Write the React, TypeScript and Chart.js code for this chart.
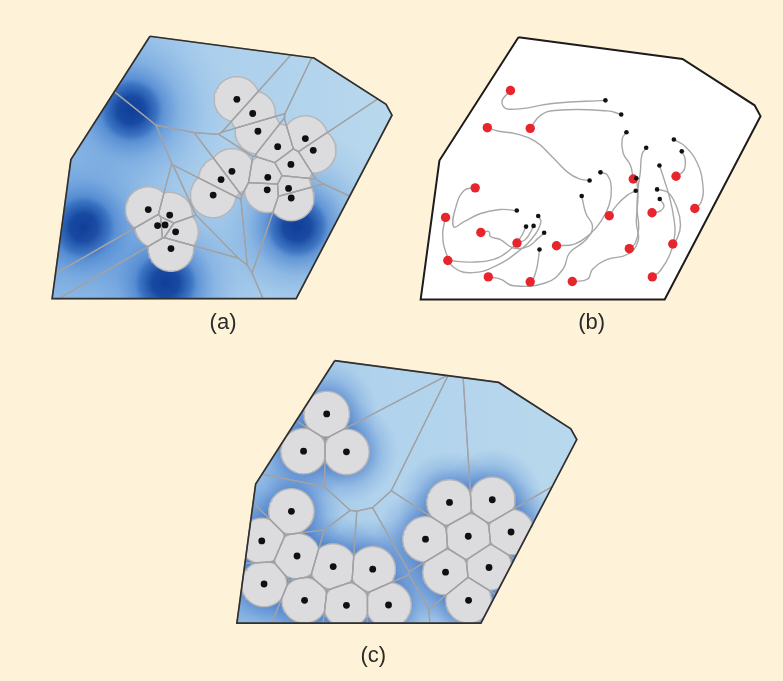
import React, { useEffect, useRef } from 'react';
import { Chart, registerables } from 'chart.js';

Chart.register(...registerables);

const CANVAS_W = 783;
const CANVAS_H = 681;

// Shared workspace polygon (frame of panel a)
const domainX = [147, 313, 386, 392, 295, 48, 67];
const domainY = [32, 54, 101, 112, 298, 298, 157];

const panelLabels = ['(a)', '(b)', '(c)'];
const panelOffsetX = [0, 373, 187];
const panelOffsetY = [0, 1, 329];
const labelX = [221, 594, 373];
const labelY = [323, 323, 660];

// Initial robot positions (panel a, black dots of panel b)
const initialX = [235, 251, 256.3, 276.3, 304.3, 312.3, 289.7, 266.3, 265.7, 287.3, 290, 230, 219, 211, 145.3, 167, 154.7, 162.3, 173, 168.3];
const initialY = [96, 110.3, 128.3, 144, 135.7, 147.7, 162, 175, 187.7, 186.3, 196, 169, 177.3, 193, 207.7, 213.3, 224, 223.3, 230.3, 247.3];

// Final robot positions (panel c, red dots of panel b)
const finalX = [138.9, 115.5, 158.9, 103.2, 73.2, 108.9, 75.5, 145.5, 185.5, 116.5, 158.9, 201.5, 263.2, 306.5, 238.9, 282.2, 325.5, 259.2, 303.2, 282.5];
const finalY = [86, 123.7, 124.4, 184.7, 214.7, 230, 258.4, 240.7, 243.4, 275, 280, 279.7, 175.7, 173, 213, 210, 205.7, 246.4, 241.7, 275];

// Density peaks (panel a)
const densityX = [128, 80, 163, 296];
const densityY = [107, 226, 282, 225];

const sensingRadius = 23;

// Trajectories (panel b): start index, end index, waypoints
const trajStart = [0, 1, 2, 4, 5, 3, 6, 9, 10, 8, 11, 12, 7, 13, 14, 16, 17, 19, 18, 15];
const trajEnd = [0, 2, 12, 16, 13, 17, 19, 18, 15, 14, 8, 1, 11, 9, 3, 6, 7, 10, 5, 4];
const trajWaypoints: number[][][] = [
  [[183.7, 99], [137, 105], [130.3, 97.3]],
  [[237, 106.7], [183.7, 106.3], [168.7, 111.7]],
  [[252, 135], [253, 149.7], [260.3, 161.7]],
  [[315.3, 142.3], [327.7, 159], [333.7, 182.3], [332, 199]],
  [[315.7, 155.7], [314.3, 167.3]],
  [[272, 150.7], [270.3, 169], [268, 185.7], [267, 205.7], [268.7, 225.7], [265.3, 240.7]],
  [[294.3, 175.7], [300.3, 195.7], [304.3, 215.7], [305.3, 232.3], [300.3, 252.3], [290.3, 269]],
  [[298.7, 189.7], [307.7, 205.7], [311, 222.3], [307.7, 235.7]],
  [[294.3, 203], [290.3, 208.3]],
  [[257, 192.3], [247, 201.7]],
  [[237, 171.7], [241, 185.7], [238.7, 202.3], [230.3, 219], [218.7, 232.3], [203.7, 241.7]],
  [[208.7, 175.7], [197, 169], [180.3, 152.3], [163.7, 137.3], [143.7, 129.7], [127, 127.3]],
  [[268, 192.3], [266.3, 219], [268, 239], [257, 252.3], [237, 257.3], [222, 267.3], [217, 277.3]],
  [[215.3, 210.7], [222, 224], [215.3, 237.3], [198.7, 250.7], [192, 267.3], [175.3, 280.7], [142, 284], [128.7, 277.3]],
  [[128.7, 206.7], [108.7, 210.7], [92, 219], [81.3, 224], [83.7, 204], [92, 187.3]],
  [[148.7, 235.7], [138.7, 247.3], [122, 257.3], [98.7, 260]],
  [[158.7, 230.7], [153.7, 237.3]],
  [[166, 264], [162, 277.3]],
  [[167, 235.7], [157, 244], [142, 245.7], [128.7, 237.3], [118.7, 234], [117, 229]],
  [[169.7, 219], [163.7, 232.3], [147, 249], [123.7, 264], [100.3, 270.7], [82, 265.7], [74.3, 252.3], [70.3, 232.3]],
];

type Pt = { x: number; y: number };

const clipBy = (poly: Pt[], f: (p: Pt) => number): Pt[] => {
  const out: Pt[] = [];
  for (let i = 0; i < poly.length; i++) {
    const p = poly[i];
    const q = poly[(i + 1) % poly.length];
    const fp = f(p);
    const fq = f(q);
    if (fp <= 0) out.push(p);
    if ((fp < 0 && fq > 0) || (fp > 0 && fq < 0)) {
      const t = fp / (fp - fq);
      out.push({ x: p.x + t * (q.x - p.x), y: p.y + t * (q.y - p.y) });
    }
  }
  return out;
};

const domainPoly = (): Pt[] => domainX.map((x, i) => ({ x, y: domainY[i] }));

const clipToDomain = (poly: Pt[]): Pt[] => {
  const d = domainPoly();
  let r = poly;
  for (let i = 0; i < d.length; i++) {
    const p = d[i];
    const q = d[(i + 1) % d.length];
    r = clipBy(r, (s) => -((q.x - p.x) * (s.y - p.y) - (q.y - p.y) * (s.x - p.x)));
  }
  return r;
};

const clipToCell = (poly: Pt[], xs: number[], ys: number[], i: number): Pt[] => {
  let r = poly;
  for (let j = 0; j < xs.length; j++) {
    if (j === i) continue;
    const mx = (xs[i] + xs[j]) / 2;
    const my = (ys[i] + ys[j]) / 2;
    const dx = xs[j] - xs[i];
    const dy = ys[j] - ys[i];
    r = clipBy(r, (s) => (s.x - mx) * dx + (s.y - my) * dy);
  }
  return r;
};

const circlePoly = (cx: number, cy: number, r: number): Pt[] => {
  const pts: Pt[] = [];
  const n = 96;
  for (let k = 0; k < n; k++) {
    const a = (k / n) * Math.PI * 2;
    pts.push({ x: cx + r * Math.cos(a), y: cy + r * Math.sin(a) });
  }
  return pts;
};

const shift = (poly: Pt[], k: number): Pt[] =>
  poly.map((p) => ({ x: p.x + panelOffsetX[k], y: p.y + panelOffsetY[k] }));

const ok = (...v: number[]) => v.every((n) => Number.isFinite(n));

const radialFill = (cx: number, cy: number, r: number, stops: [number, string][]) => (c: any) => {
  const chart = c.chart;
  const xs = chart.scales?.x;
  const ys = chart.scales?.y;
  if (!xs || !ys) return 'rgba(0,0,0,0)';
  const px = xs.getPixelForValue(cx);
  const py = ys.getPixelForValue(cy);
  const pr = Math.abs(xs.getPixelForValue(cx + r) - px);
  if (!ok(px, py, pr) || pr <= 0) return 'rgba(0,0,0,0)';
  const g = chart.ctx.createRadialGradient(px, py, 0, px, py, pr);
  stops.forEach(([o, col]) => g.addColorStop(o, col));
  return g;
};

const linearFill = (x0: number, x1: number, stops: [number, string][]) => (c: any) => {
  const chart = c.chart;
  const xs = chart.scales?.x;
  if (!xs) return '#b8d8ec';
  const p0 = xs.getPixelForValue(x0);
  const p1 = xs.getPixelForValue(x1);
  if (!ok(p0, p1)) return '#b8d8ec';
  const g = chart.ctx.createLinearGradient(p0, 0, p1, 0);
  stops.forEach(([o, col]) => g.addColorStop(o, col));
  return g;
};

const spotStops: [number, string][] = [
  [0, 'rgba(16,62,152,1)'],
  [0.14, 'rgba(20,70,160,0.97)'],
  [0.26, 'rgba(35,95,185,0.8)'],
  [0.32, 'rgba(50,112,198,0.62)'],
  [0.5, 'rgba(70,130,210,0.33)'],
  [0.75, 'rgba(95,150,218,0.12)'],
  [1, 'rgba(110,160,222,0)'],
];

const haloStops: [number, string][] = [
  [0, 'rgba(45,100,190,0.5)'],
  [0.45, 'rgba(45,100,190,0.46)'],
  [0.7, 'rgba(60,115,200,0.2)'],
  [1, 'rgba(80,130,205,0)'],
];

const labelPlugin = {
  id: 'panelLabels',
  afterDatasetsDraw(chart: any) {
    const { ctx } = chart;
    const xs = chart.scales.x;
    const ys = chart.scales.y;
    ctx.save();
    ctx.font = '22px "Liberation Sans", Arial, Helvetica, sans-serif';
    ctx.fillStyle = '#2a2a2a';
    ctx.textAlign = 'center';
    ctx.textBaseline = 'middle';
    panelLabels.forEach((t, i) => {
      ctx.fillText(t, xs.getPixelForValue(labelX[i]), ys.getPixelForValue(labelY[i]));
    });
    ctx.restore();
  },
};

function buildDatasets() {
  const ds: any[] = [];
  const add = (d: any) =>
    ds.push({
      pointRadius: 0,
      pointHoverRadius: 0,
      borderWidth: 0,
      borderColor: 'rgba(0,0,0,0)',
      tension: 0,
      fill: false,
      ...d,
    });
  const poly = (pts: Pt[], extra: any) => add({ data: [...pts, pts[0]], ...extra });
  const dots = (xs: number[], ys: number[], k: number, r: number, color: string) =>
    add({
      data: xs.map((x, i) => ({ x: x + panelOffsetX[k], y: ys[i] + panelOffsetY[k] })),
      showLine: false,
      pointRadius: r,
      pointBackgroundColor: color,
      pointBorderWidth: 0,
    });

  const dom = domainPoly();

  const voronoiPanel = (k: number, xs: number[], ys: number[], base: any, overlays: any[]) => {
    const d = shift(dom, k);
    poly(d, { fill: 'shape', backgroundColor: base });
    overlays.forEach((bg) => poly(d, { fill: 'shape', backgroundColor: bg }));
    xs.forEach((x, i) => {
      const disc = clipToDomain(clipToCell(circlePoly(x, ys[i], sensingRadius), xs, ys, i));
      if (disc.length > 2)
        poly(shift(disc, k), { fill: 'shape', backgroundColor: '#dcdcdf', borderColor: '#b6b6b8', borderWidth: 1.4 });
    });
    xs.forEach((_, i) => {
      const cell = clipToCell(dom, xs, ys, i);
      if (cell.length > 2) poly(shift(cell, k), { borderColor: '#a2a2a4', borderWidth: 1.25 });
    });
    poly(d, { borderColor: '#303030', borderWidth: 1.7 });
    dots(xs, ys, k, 3.4, '#101010');
  };

  // Panel (a)
  const ka = 0;
  voronoiPanel(
    ka,
    initialX,
    initialY,
    linearFill(48 + panelOffsetX[ka], 392 + panelOffsetX[ka], [
      [0, '#8dbae6'],
      [0.45, '#abcfec'],
      [1, '#b8d8ec'],
    ]),
    densityX.map((x, i) => radialFill(x + panelOffsetX[ka], densityY[i] + panelOffsetY[ka], 100, spotStops))
  );

  // Panel (b)
  const kb = 1;
  const db = shift(dom, kb);
  poly(db, { fill: 'shape', backgroundColor: '#ffffff' });
  trajWaypoints.forEach((wps, t) => {
    const s = trajStart[t];
    const e = trajEnd[t];
    const pts: Pt[] = [
      { x: initialX[s], y: initialY[s] },
      ...wps.map((w) => ({ x: w[0], y: w[1] })),
      { x: finalX[e], y: finalY[e] },
    ];
    add({ data: shift(pts, kb), borderColor: '#a8a8a8', borderWidth: 1.4, tension: 0.45 });
  });
  poly(db, { borderColor: '#1c1c1c', borderWidth: 2 });
  dots(finalX, finalY, kb, 4.7, '#e6262c');
  dots(initialX, initialY, kb, 2.3, '#111111');

  // Panel (c)
  const kc = 2;
  voronoiPanel(
    kc,
    finalX,
    finalY,
    linearFill(48 + panelOffsetX[kc], 392 + panelOffsetX[kc], [
      [0, '#92bde7'],
      [0.4, '#b0d2ec'],
      [1, '#b8d8ec'],
    ]),
    finalX.map((x, i) => radialFill(x + panelOffsetX[kc], finalY[i] + panelOffsetY[kc], 52, haloStops))
  );

  const n = ds.length;
  ds.forEach((d, i) => (d.order = n - i));
  return ds;
}

export default function App() {
  const canvasRef = useRef<HTMLCanvasElement | null>(null);

  useEffect(() => {
    const canvas = canvasRef.current;
    if (!canvas) return;
    const chart = new Chart(canvas, {
      type: 'line',
      data: { datasets: buildDatasets() },
      options: {
        responsive: false,
        animation: false,
        events: [],
        devicePixelRatio: 1,
        layout: { padding: 0 },
        plugins: {
          legend: { display: false },
          tooltip: { enabled: false },
          title: { display: false },
        },
        scales: {
          x: { type: 'linear', min: 0, max: CANVAS_W, display: false },
          y: { type: 'linear', min: 0, max: CANVAS_H, reverse: true, display: false },
        },
      },
      plugins: [labelPlugin],
    } as any);
    return () => chart.destroy();
  }, []);

  return (
    <div
      style={{
        position: 'fixed',
        left: 0,
        top: 0,
        width: CANVAS_W,
        height: CANVAS_H,
        background: '#fef3d8',
      }}
    >
      <canvas ref={canvasRef} width={CANVAS_W} height={CANVAS_H} style={{ display: 'block' }} />
    </div>
  );
}
